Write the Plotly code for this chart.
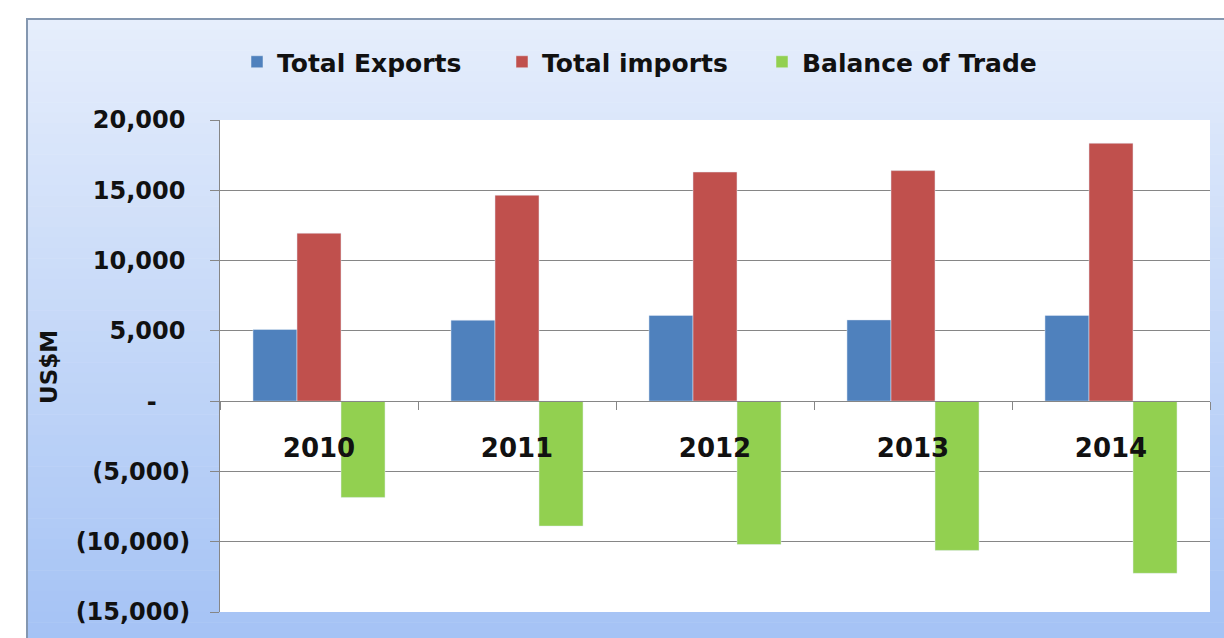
import plotly.graph_objects as go
import numpy as np

# ---- data ----
years = ["2010", "2011", "2012", "2013", "2014"]
total_exports = [5100, 5760, 6100, 5780, 6100]
total_imports = [11950, 14650, 16300, 16400, 18350]
balance_of_trade = [-6850, -8890, -10200, -10620, -12250]

y_tickvals = [-15000, -10000, -5000, 0, 5000, 10000, 15000, 20000]
y_ticktext = ["(15,000)", "(10,000)", "(5,000)", "-\u2007\u2007", "5,000\u2009",
              "10,000\u2009", "15,000\u2009", "20,000\u2009"]

FONT = "DejaVu Sans"
W, H = 1224, 638
L, R, T, B = 220, 14, 120, 26  # plot area margins in px
pw, ph = W - L - R, H - T - B


def px_x(px):
    return (px - L) / pw


def px_y(py):
    return (H - B - py) / ph


fig = go.Figure()
fig.add_bar(x=years, y=total_exports, name="Total Exports", marker_color="#4F81BD", legend="legend")
fig.add_bar(x=years, y=total_imports, name="Total imports", marker_color="#C0504D", legend="legend2")
fig.add_bar(x=years, y=balance_of_trade, name="Balance of Trade", marker_color="#92D050", legend="legend3")

# background gradient (styling)
shapes = []
n = 60
top_c = np.array([230, 238, 252])
bot_c = np.array([165, 195, 245])
y0px, y1px = 19, H + 5
edges = np.linspace(y0px, y1px, n + 1)
for i in range(n):
    t = i / (n - 1)
    c = (top_c * (1 - t) + bot_c * t).astype(int)
    shapes.append(dict(type="rect", xref="paper", yref="paper", layer="below",
                       x0=px_x(27), x1=px_x(W + 5), y0=px_y(edges[i + 1] + 0.5), y1=px_y(edges[i]),
                       fillcolor=f"rgb({c[0]},{c[1]},{c[2]})", line=dict(width=0)))
# plot area white
shapes.append(dict(type="rect", xref="paper", yref="paper", layer="below",
                   x0=0, x1=1, y0=0, y1=1, fillcolor="white", line=dict(width=0)))
# outer border
shapes.append(dict(type="rect", xref="paper", yref="paper", layer="below",
                   x0=px_x(27), x1=px_x(W + 10), y0=px_y(H + 10), y1=px_y(19),
                   fillcolor="rgba(0,0,0,0)", line=dict(color="#8497b0", width=2)))


def leg(xpx):
    return dict(orientation="h", x=px_x(xpx), xanchor="left", y=px_y(62), yanchor="middle",
                font=dict(family=FONT, size=25, color="#111111", weight="bold"),
                bgcolor="rgba(0,0,0,0)", itemwidth=30)


fig.update_layout(
    width=W, height=H,
    margin=dict(l=L, r=R, t=T, b=B, autoexpand=False),
    paper_bgcolor="white",
    plot_bgcolor="white",
    barmode="group",
    bargap=0.333,
    bargroupgap=0,
    shapes=shapes,
    showlegend=True,
    legend=leg(237),
    legend2=leg(502),
    legend3=leg(762),
    xaxis=dict(type="category", anchor="free", position=15000 / 35000,
               showline=True, linecolor="#868686", linewidth=1,
               ticks="outside", tickson="boundaries", ticklen=8, tickcolor="#868686",
               tickfont=dict(family=FONT, size=26, color="#111111", weight="bold"),
               ticklabelstandoff=24, showgrid=False, zeroline=False, fixedrange=True),
    yaxis=dict(range=[-15000, 20000], tickvals=y_tickvals, ticktext=y_ticktext,
               showline=True, linecolor="#868686", linewidth=1,
               ticks="outside", ticklen=9, tickcolor="#868686",
               showgrid=True, gridcolor="#868686", gridwidth=1,
               zeroline=False, ticklabelstandoff=15,
               tickfont=dict(family=FONT, size=24, color="#111111", weight="bold")),
    annotations=[dict(text="US$M", textangle=-90, xref="paper", yref="paper",
                      x=px_x(49), y=px_y(367), xanchor="center", yanchor="middle",
                      showarrow=False,
                      font=dict(family=FONT, size=23, color="#111111", weight="bold"))],
)

fig.write_html("out.html", config={"displayModeBar": False},
               post_script="document.body.style.margin='0';document.body.style.overflow='hidden';")
